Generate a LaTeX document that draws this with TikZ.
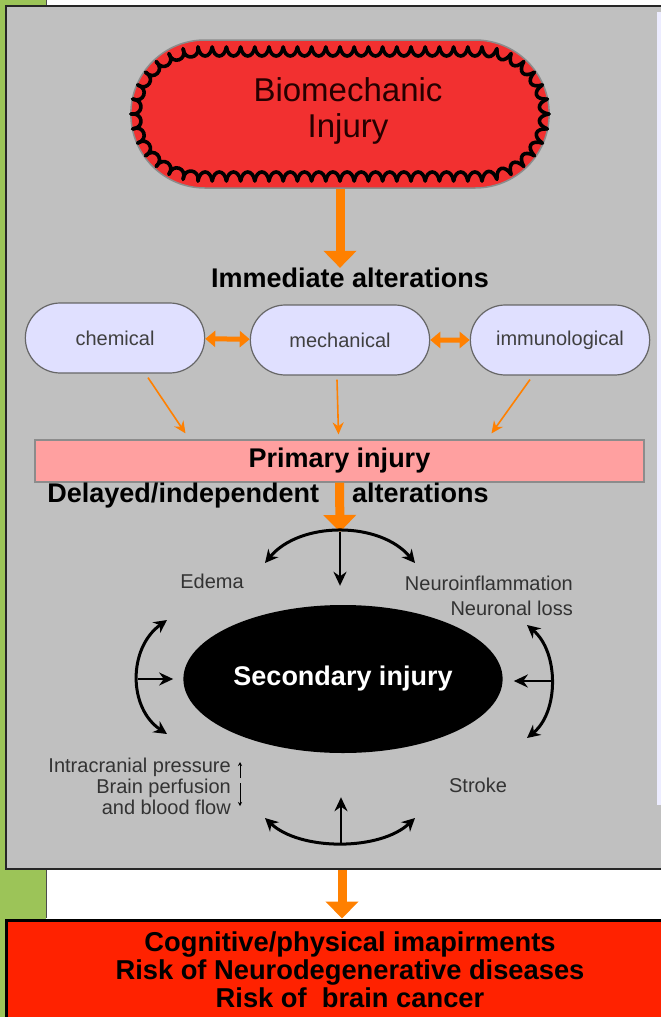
\documentclass[tikz,border=0pt]{standalone}
\usepackage{fontspec}
\setmainfont{Liberation Sans}
\usetikzlibrary{shapes.geometric, shapes.misc, arrows.meta, positioning, calc}

\definecolor{panelgray}{RGB}{192,192,192}
\definecolor{tbiorange}{RGB}{255,128,0}
\definecolor{injred}{RGB}{242,48,48}
\definecolor{outred}{RGB}{255,34,0}
\definecolor{primpink}{RGB}{255,160,160}
\definecolor{pilllav}{RGB}{224,224,255}
\definecolor{slidegreen}{RGB}{156,196,88}

\begin{document}
\begin{tikzpicture}[x=1pt, y=-1pt,
    pill/.style={rounded rectangle, draw=black!60, line width=1.2pt, fill=pilllav,
        minimum width=186pt, minimum height=70pt, text=black!75,
        font=\fontsize{20}{24}\selectfont},
    boldlbl/.style={inner sep=0pt, font=\fontsize{27}{28}\selectfont\bfseries},
    smalllbl/.style={inner sep=0pt, text=black!80, font=\fontsize{20}{24}\selectfont},
    fatarrow/.style={draw=tbiorange, line width=9pt, -{Triangle[width=32pt,length=17pt]}},
    twoway/.style={draw=tbiorange, line width=5pt,
        {Triangle[width=16pt,length=10pt]}-{Triangle[width=16pt,length=10pt]}},
    thinarrow/.style={draw=tbiorange, line width=1.6pt, -{Stealth[length=12pt,width=11pt]}},
    bendarr/.style={line width=3pt, {Stealth[length=13pt,width=13pt]}-{Stealth[length=13pt,width=13pt]}},
    pusharr/.style={line width=2.5pt, -{Stealth[length=14pt,width=13pt]}},
    scallop/.style={draw=black, line width=3.6pt, line cap=round}
]
    \useasboundingbox (0,0) rectangle (661,1017);
    % slide background
    \fill[white] (0,0) rectangle (661,1017);
    \fill[slidegreen] (0,0) rectangle (46,1017);
    \draw[black!70, line width=1pt] (46,0) -- (46,6);
    \draw[black!70, line width=1pt] (46,870) -- (46,918);
    % grey panel
    \filldraw[fill=panelgray, draw=black!85, line width=2pt] (6,6) rectangle (700,869);
    \fill[pilllav!60!white] (657,12) rectangle (661,805);
    \coordinate (panelbot) at (342,870);

    % Biomechanic injury
    \node[rounded rectangle, draw=black!45, line width=1.5pt, fill=injred,
        minimum width=425pt, minimum height=148pt] (bio) at (340,114) {};
    % scalloped inner rim
    \foreach \i in {0,...,19} {
        \draw[scallop] (198+14.2*\i,47) .. controls (200+14.2*\i,59) and (210.2+14.2*\i,59) .. (212.2+14.2*\i,47);
        \draw[scallop] (198+14.2*\i,181) .. controls (200+14.2*\i,169) and (210.2+14.2*\i,169) .. (212.2+14.2*\i,181);
    }
    \foreach \i [evaluate=\i as \a using 90-12.857*\i, evaluate=\i as \b using 77.143-12.857*\i] in {0,...,13} {
        \draw[scallop] ($(482,114)+(\a:67pt)$) .. controls ($(482,114)+(\a-2:55pt)$) and ($(482,114)+(\b+2:55pt)$) .. ($(482,114)+(\b:67pt)$);
        \draw[scallop] ($(198,114)+(180-\a:67pt)$) .. controls ($(198,114)+(178-\a:55pt)$) and ($(198,114)+(182-\b:55pt)$) .. ($(198,114)+(180-\b:67pt)$);
    }
    \node[align=center, text=black!85!red, font=\fontsize{33}{36}\selectfont] (biotxt) at (348,111)
        {Biomechanic\\Injury};

    \node[boldlbl] (imm) at (350,278) {Immediate alterations};
    \draw[fatarrow] (bio.south) -- (bio.south |- imm.north);

    % immediate alterations
    \node[pill] (chem) at (115,338) {chemical};
    \node[pill] (mech) at (340,340) {mechanical};
    \node[pill] (immu) at (560,340) {immunological};
    \draw[twoway] (chem) -- (mech);
    \draw[twoway] (mech) -- (immu);

    \node[rectangle, draw=black!45, line width=1.2pt, fill=primpink, minimum width=609pt,
        minimum height=42pt, font=\fontsize{27}{28}\selectfont\bfseries] (prim) at (339.5,461) {Primary injury};
    \draw[thinarrow] ([xshift=33pt, yshift=-4pt]chem.south) -- ([xshift=-154pt, yshift=6pt]prim.north);
    \draw[thinarrow] ([xshift=-3pt, yshift=-4pt]mech.south) -- ([xshift=-1pt, yshift=5pt]prim.north);
    \draw[thinarrow] ([xshift=-30pt, yshift=-4pt]immu.south) -- ([xshift=152pt, yshift=6pt]prim.north);

    \node[boldlbl] (delay) at (268,496) {Delayed/independent\hspace{33pt}alterations};

    % secondary injury
    \node[ellipse, fill=black, text=white, minimum width=296pt, minimum height=148pt,
        font=\fontsize{27}{28}\selectfont\bfseries] (sec) at (343,679) {Secondary injury};

    \coordinate (ttop) at (340,532);
    \coordinate (lmid) at (138,679);
    \coordinate (rmid) at (551,681);
    \coordinate (bbot) at (341,843);
    \draw[fatarrow] (prim.south) -- (ttop);

    \draw[bendarr] (265,563) .. controls (300,521) and (380,521) .. (415,563);
    \draw[pusharr, shorten >=19pt] (ttop) -- (ttop |- sec.north);
    \draw[bendarr] (167,620) .. controls (128,648) and (128,708) .. (167,734);
    \draw[pusharr, shorten >=10pt] (lmid) -- (lmid -| sec.west);
    \draw[bendarr] (527,625) .. controls (559,652) and (559,712) .. (527,738);
    \draw[pusharr, shorten >=11pt] (rmid) -- (rmid -| sec.east);
    \draw[bendarr] (265,818) .. controls (300,851) and (380,851) .. (415,818);
    \draw[pusharr, shorten >=44pt] (bbot) -- (bbot |- sec.south);

    \node[smalllbl] (edema) at (212,581) {Edema};
    \node[smalllbl, anchor=east, align=right, font=\fontsize{20}{25}\selectfont] (neuro) at (573,596)
        {Neuroinflammation\\Neuronal loss};
    \node[smalllbl, anchor=east, align=right, font=\fontsize{20}{21}\selectfont] (icp) at (231,786)
        {Intracranial pressure\\Brain perfusion\\and blood flow};
    \node[smalllbl] (stroke) at (478,785) {Stroke};
    \draw[line width=0.9pt, -{Stealth[length=4pt,width=4pt]}] ([xshift=9pt, yshift=8pt]icp.east) -- ++(0,-16);
    \draw[line width=0.9pt, -{Stealth[length=4pt,width=4pt]}] ([xshift=9pt, yshift=3pt]icp.east) -- ++(0,23);

    % outcome
    \node[rectangle, fill=outred, draw=black, line width=3pt, minimum width=688pt, minimum height=100pt,
        align=center, font=\fontsize{27.3}{28}\selectfont\bfseries] (outbox) at (350,970)
        {Cognitive/physical imapirments\\Risk of Neurodegenerative diseases\\Risk of\ \ brain cancer};
    \draw[fatarrow] (panelbot) -- (panelbot |- outbox.north);
\end{tikzpicture}
\end{document}
